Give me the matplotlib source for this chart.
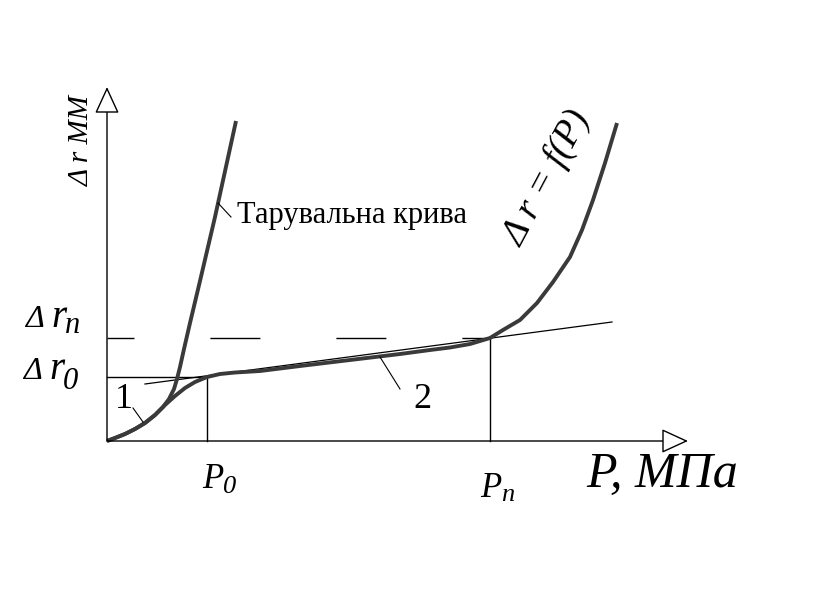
import matplotlib.pyplot as plt

plt.rcParams['lines.scale_dashes'] = False

# schematic units: origin of the axes at (0, 0)
p0, pn = 100, 383
dr0, drn = 64, 103
x_end, y_end = 581, 354

# calibration curve (Тарувальна крива)
calib_p = [0, 8, 18, 28, 38, 48, 56, 62, 67, 70, 73, 77, 83, 93, 108, 129]
calib_r = [0, 3, 7, 12, 18, 26, 34, 42, 52, 62, 74, 92, 118, 160, 224, 320]

# curve 2: Δr = f(P)
curve_p = [0, 8, 18, 28, 38, 48, 58, 68, 78, 88, 100, 113, 128, 153, 193, 243,
           293, 323, 343, 363, 383, 396, 413, 430, 446, 463, 475, 486, 498, 510]
curve_r = [0, 3, 7, 12, 18, 26, 36, 45, 53, 59, 64, 67, 68.5, 70, 75, 81,
           87, 91, 93.5, 97, 103, 111, 121, 138, 159, 184, 211, 241, 278, 318]

# tangent to the plateau
tang_p = [38, 505]
tang_r = [57, 119]

SERIF = 'Liberation Serif'


def itext(ax, x, y, s, size):
    ax.text(x, y, s, ha='left', va='baseline', family=SERIF, style='italic', fontsize=size)


def main():
    fig = plt.figure(figsize=(8.21, 6.09), dpi=100)
    ax = fig.add_axes([0, 0, 1, 1])
    ax.set_xlim(-107, 714)
    ax.set_ylim(-168, 441)
    ax.axis('off')

    # axes with hollow arrow heads
    arrow = dict(arrowstyle='-|>,head_length=1.2,head_width=0.55', facecolor='white',
                 edgecolor='black', lw=1, mutation_scale=14, shrinkA=0, shrinkB=0)
    ax.annotate('', xy=(x_end, 0), xytext=(0, 0), arrowprops=arrow)
    ax.annotate('', xy=(0, y_end), xytext=(0, 0), arrowprops=arrow)

    # helper lines
    ax.plot([0, p0], [dr0, dr0], color='black', lw=1)
    ax.plot([p0, p0], [0, dr0], color='black', lw=1)
    ax.plot([pn, pn], [0, drn], color='black', lw=1)
    ax.plot([0, pn], [drn, drn], color='black', lw=1, linestyle=(16.6, (36, 54.7)))
    ax.plot(tang_p, tang_r, color='black', lw=0.9)

    # curves
    for xs, ys in [(calib_p, calib_r), (curve_p, curve_r)]:
        ax.plot(xs, ys, color='#3a3a3a', lw=2.8, solid_capstyle='butt',
                solid_joinstyle='round')

    # leader lines
    ax.plot([26, 36], [33, 19], color='black', lw=0.8)
    ax.plot([273, 293], [84, 52], color='black', lw=0.8)
    ax.plot([111, 124], [238, 224], color='black', lw=0.8)

    ax.text(-25, 300, 'Δ r ММ', rotation=90, ha='center', va='center',
            family=SERIF, style='italic', fontsize=21)

    # Δr_n and Δr_0 at the left of the y axis
    itext(ax, -82, 114, 'Δ', 23)
    itext(ax, -56, 114, 'r', 28)
    itext(ax, -42, 108, 'n', 22)
    itext(ax, -84, 62, 'Δ', 23)
    itext(ax, -58, 62, 'r', 28)
    itext(ax, -44, 52, '0', 22)

    # P_0 and P_n under the x axis
    itext(ax, 95, -47, 'P', 25)
    itext(ax, 116, -52, '0', 19)
    itext(ax, 373, -56, 'P', 25)
    itext(ax, 394, -60, 'n', 19)

    ax.text(17, 42, '1', ha='center', va='center', family=SERIF, fontsize=26)
    ax.text(315, 41, '2', ha='center', va='center', family=SERIF, fontsize=26)
    ax.text(130, 225, 'Тарувальна крива', ha='left', va='center', family=SERIF, fontsize=22)
    ax.text(440, 262, 'Δ r = f(P)', rotation=62, ha='center', va='center',
            family=SERIF, style='italic', fontsize=27)
    ax.text(555, -34, 'P, МПа', ha='center', va='center', family=SERIF,
            style='italic', fontsize=36)

    fig.savefig('out.png', dpi=100)


if __name__ == '__main__':
    main()
